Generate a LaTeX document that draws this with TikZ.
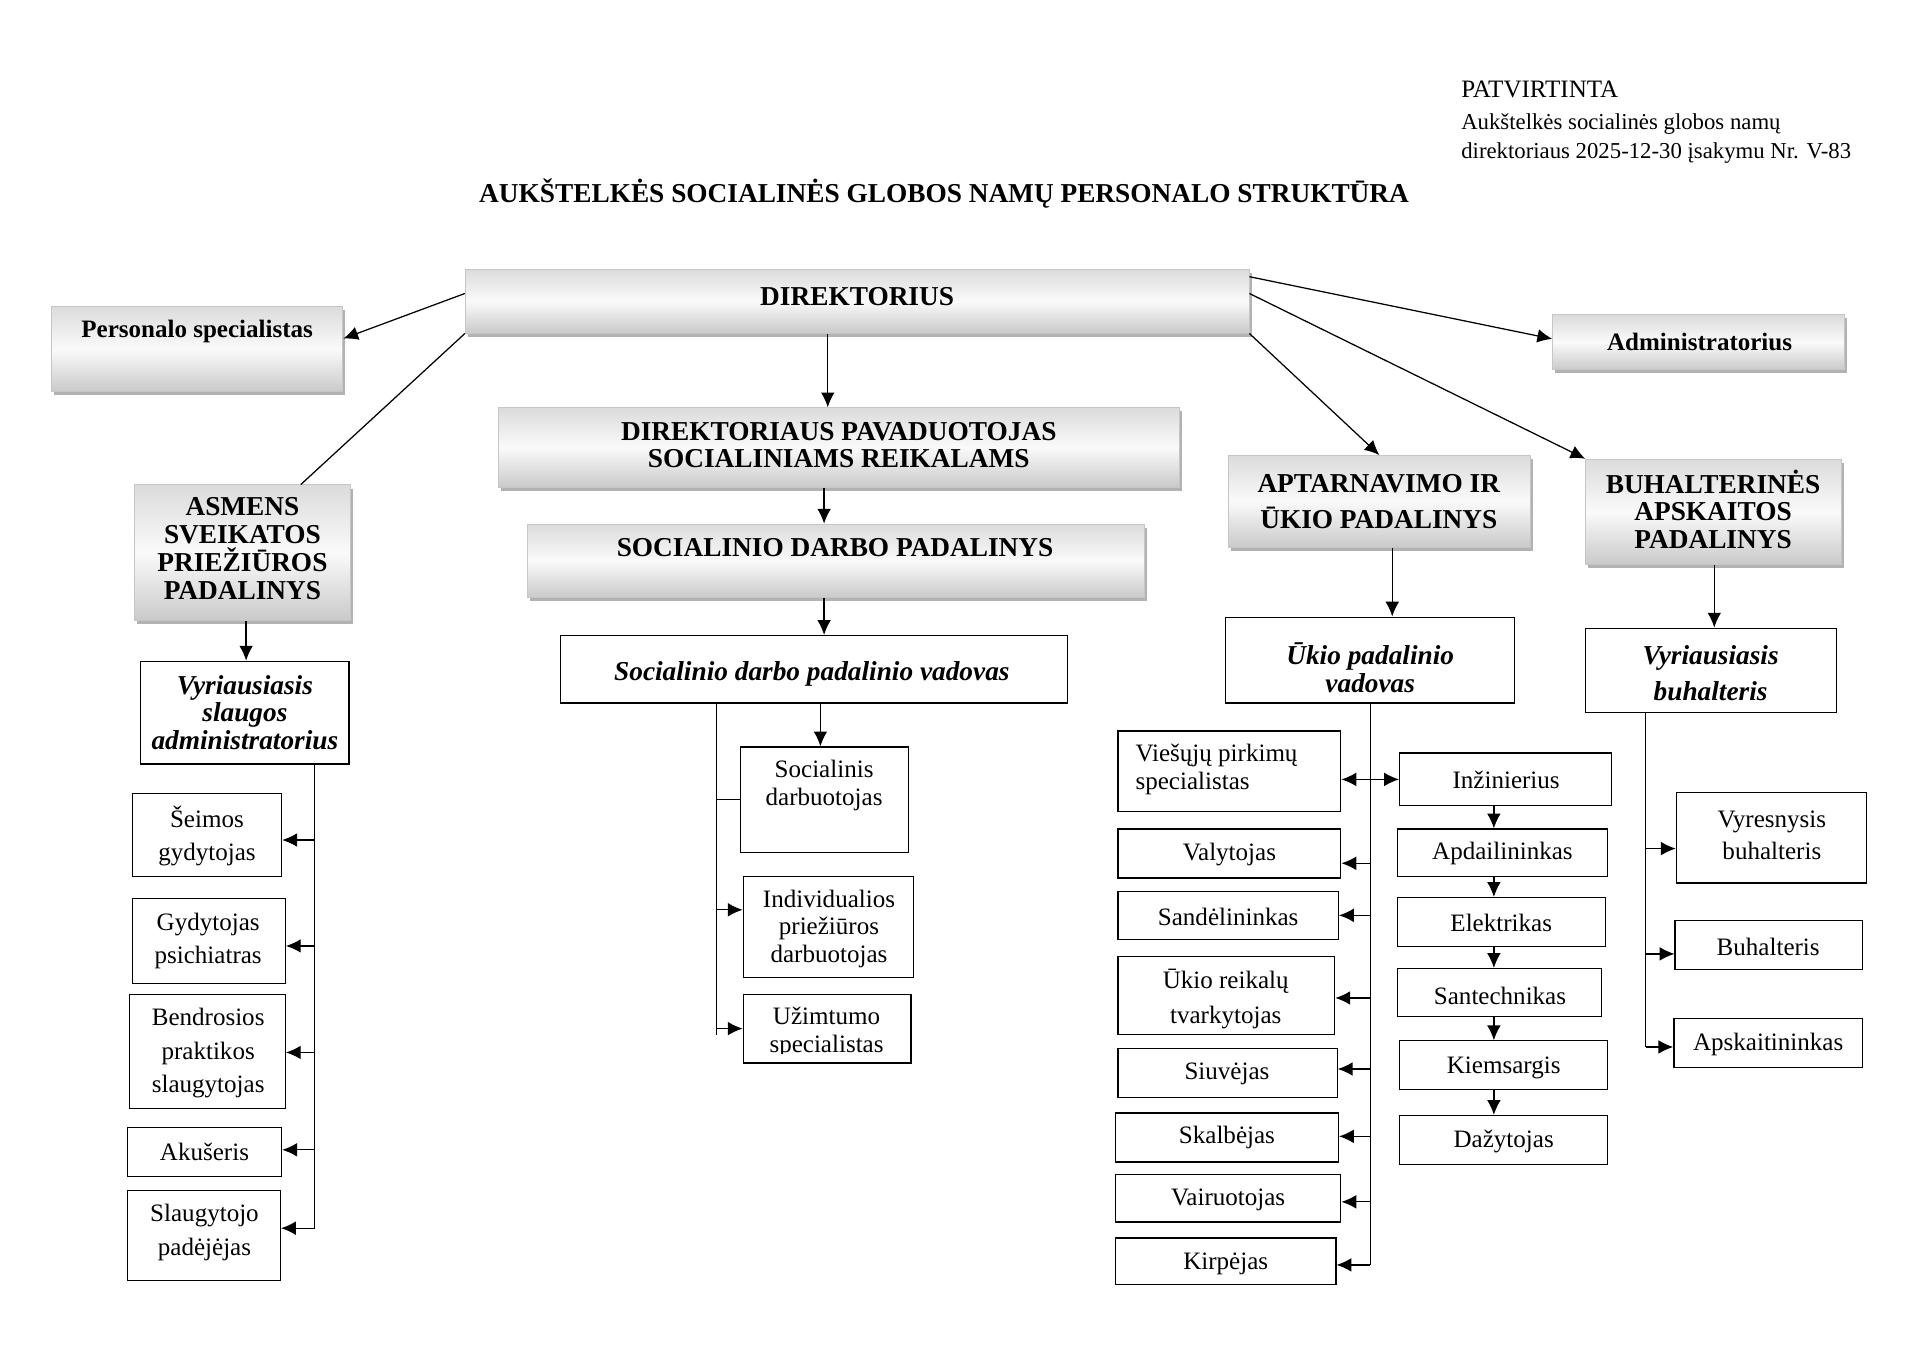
\documentclass[tikz,border=0pt]{standalone}
\usepackage{fontspec}
\setmainfont{Liberation Serif}
\usetikzlibrary{arrows.meta,shadows,fit,calc}

\begin{document}
\begin{tikzpicture}[x=0.0189cm,y=-0.0189cm,
  gbox/.style={draw=gray!45, line width=0.4pt, top color=gray!28, bottom color=gray!42, middle color=white!96!gray, inner sep=0pt,
    drop shadow={shadow xshift=1.1pt, shadow yshift=-1.6pt, fill=gray!60, opacity=1}},
  pbox/.style={draw=black, line width=0.55pt, fill=white, inner sep=0pt},
  hd/.style={font=\bfseries\fontsize{12}{12.2}\selectfont, align=center, inner sep=0pt},
  hds/.style={font=\bfseries\fontsize{11}{12}\selectfont, align=center, inner sep=0pt},
  bi/.style={font=\bfseries\itshape\fontsize{12}{12.4}\selectfont, align=center, inner sep=0pt},
  tx/.style={font=\fontsize{11}{12.2}\selectfont, align=center, inner sep=0pt},
  txw/.style={font=\fontsize{11}{14.6}\selectfont, align=center, inner sep=0pt},
  arr/.style={line width=0.55pt, -{Latex[length=6.5pt,width=6pt]}},
  ln/.style={line width=0.55pt}]
  \useasboundingbox (0,0) rectangle (1568,1109);

  % header
  \node[font=\fontsize{11}{13}\selectfont, anchor=west, inner sep=0pt] (patv) at (1193,73) {PATVIRTINTA};
  \node[font=\fontsize{10}{12}\selectfont, anchor=west, inner sep=0pt] (patv2) at (1193,101) {Aukštelkės socialinės globos namų};
  \node[font=\fontsize{10}{12}\selectfont, anchor=west, inner sep=0pt] (patv3) at (1193,125) {direktoriaus 2025-12-30 įsakymu Nr. V-83};
  \node[hd] (title) at (771,158) {AUKŠTELKĖS SOCIALINĖS GLOBOS NAMŲ PERSONALO STRUKTŪRA};

  % shaded boxes
  \node[gbox, fit={(380,220) (1020,272)}] (dir) {};
  \node[hd] (dir-t) at (700,242) {DIREKTORIUS};
  \node[gbox, fit={(42,250) (280,320)}] (per) {};
  \node[hds] (per-t) at (161,271) {Personalo specialistas};
  \node[gbox, fit={(1268,257) (1506,302)}] (adm) {};
  \node[hds] (adm-t) at (1388,279) {Administratorius};
  \node[gbox, fit={(407,333) (963,398)}] (pav) {};
  \node[hd] (pav-t) at (685,363.5) {DIREKTORIAUS PAVADUOTOJAS\\SOCIALINIAMS REIKALAMS};
  \node[gbox, fit={(431,428) (935,488)}] (sdp) {};
  \node[hd] (sdp-t) at (682,447) {SOCIALINIO DARBO PADALINYS};
  \node[gbox, fit={(110,396) (286,507)}] (asm) {};
  \node[hd] (asm-t) at (198,448) {ASMENS\\SVEIKATOS\\PRIEŽIŪROS\\PADALINYS};
  \node[gbox, fit={(1003,372) (1250,447)}] (apt) {};
  \node[hd, font=\bfseries\fontsize{12}{15.7}\selectfont] (apt-t) at (1126,409.5) {APTARNAVIMO IR\\ŪKIO PADALINYS};
  \node[gbox, fit={(1295,375) (1504,461)}] (buh) {};
  \node[hd] (buh-t) at (1399,416) {BUHALTERINĖS\\APSKAITOS\\PADALINYS};

  % heads of units
  \node[pbox, fit={(115,540) (285,624)}] (vsa) {};
  \node[bi, font=\bfseries\itshape\fontsize{12}{12}\selectfont] (vsa-t) at (200,582) {Vyriausiasis\\slaugos\\administratorius};
  \node[pbox, fit={(458,519) (872,574)}] (sdv) {};
  \node[bi] (sdv-t) at (663,550) {Socialinio darbo padalinio vadovas};
  \node[pbox, fit={(1001,504) (1237,574)}] (ukv) {};
  \node[bi] (ukv-t) at (1119,545.5) {Ūkio padalinio\\vadovas};
  \node[pbox, fit={(1295,513) (1500,582)}] (vbu) {};
  \node[bi, font=\bfseries\itshape\fontsize{12}{15.7}\selectfont] (vbu-t) at (1397,549.5) {Vyriausiasis\\buhalteris};

  % health unit
  \node[pbox, fit={(108,648) (230,716)}] (seimos) {};
  \node[txw] (seimos-t) at (169,682.5) {Šeimos\\gydytojas};
  \node[pbox, fit={(108,734) (233,803)}] (psich) {};
  \node[txw] (psich-t) at (170,768.5) {Gydytojas\\psichiatras};
  \node[pbox, fit={(106,812) (233,905)}] (bpsl) {};
  \node[txw] (bpsl-t) at (170,860) {Bendrosios\\praktikos\\slaugytojas};
  \node[pbox, fit={(104,921) (230,961)}] (akus) {};
  \node[tx] (akus-t) at (167,941) {Akušeris};
  \node[pbox, fit={(104,972) (229,1046)}] (slp) {};
  \node[txw] (slp-t) at (167,1006.5) {Slaugytojo\\padėjėjas};

  % social work unit
  \node[pbox, fit={(605,610) (742,696)}] (socd) {};
  \node[tx, font=\fontsize{11}{12.4}\selectfont] (socd-t) at (673,641.5) {Socialinis\\darbuotojas};
  \node[pbox, fit={(607,716) (746,798)}] (ipd) {};
  \node[tx] (ipd-t) at (677,758.5) {Individualios\\priežiūros\\darbuotojas};
  \node[pbox, fit={(607,812) (744,868)}] (uzs) {};
  \begin{scope}
    \clip (607,812) rectangle (744,860);
    \node[tx] (uzs-t) at (675,843) {Užimtumo\\specialistas};
  \end{scope}

  % service unit, left column
  \node[pbox, fit={(913,597) (1095,663)}] (vpirk) {};
  \node[tx, font=\fontsize{11}{12.4}\selectfont, align=left, anchor=west] (vpirk-t) at (927,628.5) {Viešųjų pirkimų\\specialistas};
  \node[pbox, fit={(913,677) (1095,717)}] (valyt) {};
  \node[tx] (valyt-t) at (1004,698) {Valytojas};
  \node[pbox, fit={(913,728) (1093,767)}] (sand) {};
  \node[tx] (sand-t) at (1003,749) {Sandėlininkas};
  \node[pbox, fit={(913,781) (1090,845)}] (ukr) {};
  \node[txw, font=\fontsize{11}{15.2}\selectfont] (ukr-t) at (1001,816) {Ūkio reikalų\\tvarkytojas};
  \node[pbox, fit={(913,856) (1092,896)}] (siuv) {};
  \node[tx] (siuv-t) at (1002,877) {Siuvėjas};
  \node[pbox, fit={(911,909) (1093,949)}] (skalb) {};
  \node[tx] (skalb-t) at (1002,929) {Skalbėjas};
  \node[pbox, fit={(911,959) (1095,998)}] (vair) {};
  \node[tx] (vair-t) at (1003,980) {Vairuotojas};
  \node[pbox, fit={(911,1011) (1091,1049)}] (kirp) {};
  \node[tx] (kirp-t) at (1001,1032) {Kirpėjas};

  % service unit, right column
  \node[pbox, fit={(1143,615) (1316,658)}] (inz) {};
  \node[tx] (inz-t) at (1230,637) {Inžinierius};
  \node[pbox, fit={(1141,677) (1313,716)}] (apd) {};
  \node[tx] (apd-t) at (1227,697) {Apdailininkas};
  \node[pbox, fit={(1141,733) (1311,773)}] (elek) {};
  \node[tx] (elek-t) at (1226,754) {Elektrikas};
  \node[pbox, fit={(1141,791) (1308,830)}] (sant) {};
  \node[tx] (sant-t) at (1225,813) {Santechnikas};
  \node[pbox, fit={(1143,850) (1313,890)}] (kiem) {};
  \node[tx] (kiem-t) at (1228,872) {Kiemsargis};
  \node[pbox, fit={(1143,911) (1313,951)}] (daz) {};
  \node[tx] (daz-t) at (1228,932) {Dažytojas};

  % accounting unit
  \node[pbox, fit={(1369,647) (1524,721)}] (vyrb) {};
  \node[tx, font=\fontsize{11}{14.1}\selectfont] (vyrb-t) at (1447,682) {Vyresnysis\\buhalteris};
  \node[pbox, fit={(1368,752) (1521,792)}] (buhal) {};
  \node[tx] (buhal-t) at (1444,773) {Buhalteris};
  \node[pbox, fit={(1367,832) (1521,872)}] (apsk) {};
  \node[tx] (apsk-t) at (1444,853) {Apskaitininkas};

  % x positions of the vertical lines
  \coordinate (v1) at (676,0);
  \coordinate (v2) at (673,0);
  \coordinate (v3) at (670,0);
  \coordinate (v4) at (201,0);
  \coordinate (v5) at (1137,0);
  \coordinate (v6) at (1400,0);
  \coordinate (v7) at (1220,0);
  \coordinate (abus) at (257,0);
  \coordinate (sbus) at (585,0);
  \coordinate (ubus) at (1119,0);
  \coordinate (bbus) at (1344,0);

  % from the director
  \draw[arr] ($(dir.north west)!0.38!(dir.south west)$) -- ($(per.north east)!0.38!(per.south east)$);
  \draw[ln] (dir.south west) -- ($(asm.north west)!0.77!(asm.north east)$);
  \draw[arr] ($(dir.north east)!0.12!(dir.south east)$) -- ($(adm.north west)!0.44!(adm.south west)$);
  \draw[arr] ($(dir.north east)!0.38!(dir.south east)$) -- (buh.north west);
  \draw[arr] (dir.south east) -- (apt.north);
  \draw[arr] (dir.south -| v1) -- (pav.north -| v1);

  % down the units
  \draw[arr] (pav.south -| v2) -- (sdp.north -| v2);
  \draw[arr] (sdp.south -| v2) -- (sdv.north -| v2);
  \draw[arr] (sdv.south -| v3) -- (socd.north -| v3);
  \draw[arr] (asm.south -| v4) -- (vsa.north -| v4);
  \draw[arr] (apt.south -| v5) -- (ukv.north -| v5);
  \draw[arr] (buh.south -| v6) -- (vbu.north -| v6);

  % health unit bus
  \foreach \n/\d in {seimos/4,psich/4,bpsl/1,akus/-2,slp/-6}
    \coordinate (\n-in) at ($(\n.east)+(0,\d)$);
  \draw[ln] (vsa.south -| abus) -- (slp-in -| abus);
  \foreach \n in {seimos,psich,bpsl,akus,slp}
    \draw[arr] (\n-in -| abus) -- (\n-in);

  % social work bus
  \coordinate (ipd-in) at ($(ipd.west)+(0,-14)$);
  \coordinate (uzs-in) at (uzs.west);
  \draw[ln] (sdv.south -| sbus) -- ($(uzs-in -| sbus)+(0,5)$);
  \draw[ln] (socd.west -| sbus) -- (socd.west);
  \foreach \n in {ipd,uzs}
    \draw[arr] (\n-in -| sbus) -- (\n-in);

  % service unit bus
  \foreach \n/\d in {valyt/8,sand/0,ukr/2,siuv/-3,skalb/-1,vair/3,kirp/3}
    \coordinate (\n-in) at ($(\n.east)+(0,\d)$);
  \draw[ln] (ukv.south -| ubus) -- (kirp-in -| ubus);
  \foreach \n in {valyt,sand,ukr,siuv,skalb,vair,kirp}
    \draw[arr] (\n-in -| ubus) -- (\n-in);
  \draw[line width=0.55pt, {Latex[length=6.5pt,width=6pt]}-{Latex[length=6.5pt,width=6pt]}] (vpirk.east |- inz.west) -- (inz.west);
  \foreach \a/\b in {inz/apd,apd/elek,elek/sant,sant/kiem,kiem/daz}
    \draw[arr] (\a.south -| v7) -- (\b.north -| v7);

  % accounting bus
  \foreach \n/\d in {vyrb/9,buhal/7,apsk/3}
    \coordinate (\n-in) at ($(\n.west)+(0,\d)$);
  \draw[ln] (vbu.south -| bbus) -- (apsk-in -| bbus);
  \foreach \n in {vyrb,buhal,apsk}
    \draw[arr] (\n-in -| bbus) -- (\n-in);
\end{tikzpicture}
\end{document}
